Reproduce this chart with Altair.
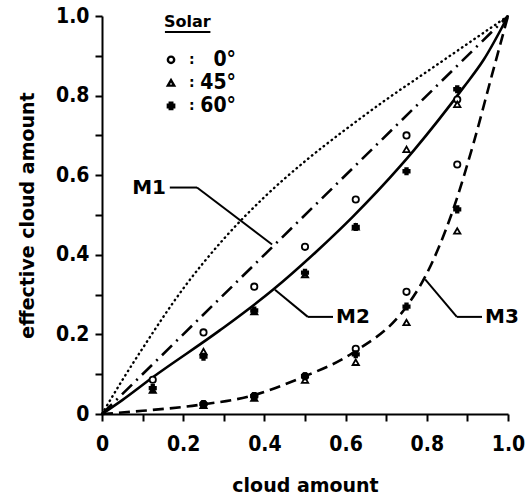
import altair as alt
import pandas as pd

# ---------------- data ----------------
octas_up = [0.125, 0.25, 0.375, 0.5, 0.625, 0.75, 0.875]
circle_up = [0.086, 0.205, 0.32, 0.42, 0.539, 0.70, 0.79]
tri_up = [0.06, 0.157, 0.257, 0.35, 0.47, 0.665, 0.778]
plus_up = [0.065, 0.144, 0.26, 0.355, 0.47, 0.61, 0.816]

octas_lo = [0.25, 0.375, 0.5, 0.625, 0.75, 0.875]
circle_lo = [0.025, 0.045, 0.095, 0.164, 0.307, 0.627]
tri_lo = [0.022, 0.04, 0.085, 0.13, 0.23, 0.46]
plus_lo = [0.025, 0.045, 0.095, 0.15, 0.27, 0.514]

dot_x = [0, 0.05, 0.1, 0.2, 0.3, 0.4, 0.5, 0.6, 0.7, 0.8, 0.9, 1.0]
dot_y = [0, 0.085, 0.165, 0.315, 0.44, 0.545, 0.635, 0.715, 0.79, 0.86, 0.93, 1.0]

m1_x = [0, 1.0]
m1_y = [0, 1.0]

m2_x = [0, 0.05, 0.126, 0.29, 0.421, 0.529, 0.618, 0.734, 0.766, 0.89, 0.94, 1.0]
m2_y = [0, 0.035, 0.093, 0.21, 0.312, 0.409, 0.496, 0.622, 0.66, 0.82, 0.89, 1.0]

m3_x = [0, 0.1, 0.241, 0.365, 0.488, 0.618, 0.75, 0.796, 0.865, 0.915, 0.96, 1.0]
m3_y = [0, 0.008, 0.023, 0.045, 0.09, 0.154, 0.27, 0.345, 0.514, 0.68, 0.85, 1.0]

label_names = ["M1", "M2", "M3"]
label_x = [0.116, 0.618, 0.985]
label_y = [0.569, 0.244, 0.244]
# leader polylines: (x1, y1, x2, y2)
leader_x1 = [0.167, 0.234, 0.569, 0.507, 0.936, 0.874]
leader_y1 = [0.569, 0.569, 0.244, 0.244, 0.244, 0.244]
leader_x2 = [0.234, 0.419, 0.507, 0.426, 0.874, 0.796]
leader_y2 = [0.569, 0.426, 0.244, 0.312, 0.244, 0.338]

legend_title = "Solar"
legend_labels = ["0°", "45°", "60°"]
legend_shapes = ["circle", "triangle-up", "cross"]
legend_rows_y = [0.89, 0.832, 0.774]

FONT = "DejaVu Sans Condensed, DejaVu Sans"
TFONT = "DejaVu Sans"

# ---------------- build tables ----------------
pts = []
for xs, ys, shp in [(octas_up, circle_up, "circle"), (octas_up, tri_up, "triangle-up"),
                    (octas_up, plus_up, "cross"), (octas_lo, circle_lo, "circle"),
                    (octas_lo, tri_lo, "triangle-up"), (octas_lo, plus_lo, "cross")]:
    for a, b in zip(xs, ys):
        pts.append({"x": a, "y": b, "shape": shp})
pts = pd.DataFrame(pts)

def curve(xs, ys):
    return pd.DataFrame({"x": xs, "y": ys, "o": range(len(xs))})

LBL = "round(datum.value*10)%2==1 ? '' : (datum.value==0 ? '0' : format(datum.value,'.1f'))"
X = alt.X("x:Q", scale=alt.Scale(domain=[0, 1], nice=False, zero=False),
          axis=alt.Axis(title="cloud amount", values=[i / 10 for i in range(11)],
                        labelExpr=LBL, titlePadding=22, labelPadding=12))
Y = alt.Y("y:Q", scale=alt.Scale(domain=[0, 1], nice=False, zero=False),
          axis=alt.Axis(title="effective cloud amount", values=[i / 10 for i in range(11)],
                        labelExpr=LBL, titlePadding=18, labelPadding=6))

def line(df, dash):
    kw = dict(color="black", strokeWidth=2.6, interpolate="monotone")
    if dash:
        kw["strokeDash"] = dash
    if dash == [0.5, 4.5]:
        kw["strokeCap"] = "round"
        kw["strokeWidth"] = 2.4
    return alt.Chart(df).mark_line(**kw).encode(x=X, y=Y, order="o:Q")

dotted = line(curve(dot_x, dot_y), [0.5, 4.5])
dashdot = line(curve(m1_x, m1_y), [14, 6, 2, 6])
solid = line(curve(m2_x, m2_y), None)
dashed = line(curve(m3_x, m3_y), [11, 6])

marks = alt.Chart(pts).mark_point(size=40, strokeWidth=1.8, color="black", opacity=1).encode(
    x=X, y=Y,
    shape=alt.Shape("shape:N", scale=None),
    fill=alt.condition("datum.shape == 'cross'", alt.value("black"), alt.value("white")),
)

lab_df = pd.DataFrame({"x": label_x, "y": label_y, "t": label_names})
labels = alt.Chart(lab_df).mark_text(font=TFONT, fontWeight="bold", fontSize=20,
                                     align="center", baseline="middle").encode(x=X, y=Y, text="t:N")

lead_df = pd.DataFrame({"x": leader_x1, "y": leader_y1, "x2": leader_x2, "y2": leader_y2})
leaders = alt.Chart(lead_df).mark_rule(color="black", strokeWidth=2).encode(
    x=X, y=Y, x2="x2:Q", y2="y2:Q")

# legend
leg_pts = pd.DataFrame({"x": [0.17] * 3, "y": legend_rows_y, "shape": legend_shapes})
leg_marks = alt.Chart(leg_pts).mark_point(size=40, strokeWidth=2.4, color="black", opacity=1).encode(
    x=X, y=Y, shape=alt.Shape("shape:N", scale=None),
    fill=alt.condition("datum.shape == 'cross'", alt.value("black"), alt.value("white")))
leg_colon = alt.Chart(pd.DataFrame({"x": [0.221] * 3, "y": legend_rows_y, "t": [":"] * 3})).mark_text(
    font=TFONT, fontWeight="bold", fontSize=14, align="center", baseline="middle").encode(
    x=X, y=Y, text="t:N")
leg_text = alt.Chart(pd.DataFrame({"x": [0.33] * 3, "y": legend_rows_y, "t": legend_labels})).mark_text(
    font=FONT, fontWeight="bold", fontSize=21, align="right", baseline="middle").encode(
    x=X, y=Y, text="t:N")
leg_title = alt.Chart(pd.DataFrame({"x": [0.21], "y": [0.985], "t": [legend_title]})).mark_text(
    font=TFONT, fontWeight="bold", fontSize=16, align="center", baseline="middle").encode(
    x=X, y=Y, text="t:N")
leg_under = alt.Chart(pd.DataFrame({"x": [0.155], "y": [0.96], "x2": [0.267], "y2": [0.96]})).mark_rule(
    color="black", strokeWidth=2).encode(x=X, y=Y, x2="x2:Q", y2="y2:Q")

chart = alt.layer(dotted, dashdot, solid, dashed, marks, leaders, labels,
                  leg_marks, leg_colon, leg_text, leg_title, leg_under).properties(
    width=406, height=398,
    background="white",
    autosize=alt.AutoSizeParams(type="none"),
    padding={"left": 102, "top": 16, "right": 22, "bottom": 83},
).configure_view(stroke=None).configure_axis(
    domainColor="black", domainWidth=2, tickColor="black", tickWidth=2, tickSize=7,
    labelFont=FONT, labelFontWeight="bold", labelFontSize=21, labelColor="black",
    titleFont=TFONT, titleFontWeight="bold", titleFontSize=19, titleColor="black",
    grid=False, labelOverlap=False, labelFlush=False,
)

chart.save("out.html", embed_options={"renderer": "svg", "actions": False})
